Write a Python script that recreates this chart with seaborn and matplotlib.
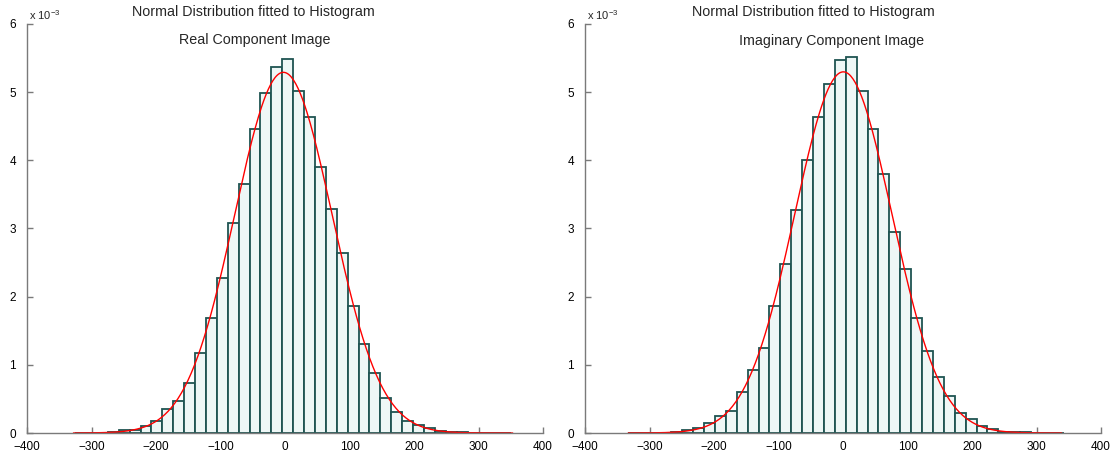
import numpy as np
import pandas as pd
import matplotlib
matplotlib.use("Agg")
import matplotlib.pyplot as plt
from matplotlib.ticker import FuncFormatter
import seaborn as sns

sns.set_style("white")
plt.rcParams["font.family"] = ["Liberation Sans", "DejaVu Sans"]
plt.rcParams["mathtext.fontset"] = "custom"
plt.rcParams["mathtext.rm"] = "Liberation Sans"
plt.rcParams["mathtext.it"] = "Liberation Sans"

# Histogram bin layout (pixel-value units)
bin_width = 16.9
real_first_edge = -4.2 - 19 * bin_width
imag_first_edge = 4.3 - 20 * bin_width

# Normalised histogram heights (x 1e-3), one per bin from left to right
real_heights = [0.002, 0.002, 0.003, 0.01, 0.04, 0.05, 0.10, 0.176, 0.347, 0.465,
                0.729, 1.169, 1.682, 2.278, 3.084, 3.651, 4.462, 4.995, 5.362, 5.484,
                5.015, 4.643, 3.895, 3.289, 2.634, 1.867, 1.30, 0.885, 0.508, 0.313,
                0.176, 0.12, 0.068, 0.025, 0.02, 0.01, 0.004, 0.003, 0.002, 0.001]
imag_heights = [0.002, 0.002, 0.003, 0.005, 0.02, 0.04, 0.07, 0.151, 0.245, 0.327,
                0.606, 0.924, 1.251, 1.857, 2.483, 3.265, 4.01, 4.64, 5.113, 5.474,
                5.51, 5.015, 4.457, 3.80, 2.947, 2.40, 1.682, 1.207, 0.821, 0.538,
                0.298, 0.21, 0.10, 0.054, 0.02, 0.01, 0.01, 0.003, 0.002, 0.001]

# Fitted normal parameters and plotted range of each curve
real_mu, real_sigma, real_range = -2.5, 75.4, (-328, 353)
imag_mu, imag_sigma, imag_range = 0.5, 75.3, (-333, 339)

suptitle = "Normal Distribution fitted to Histogram"
panel_titles = ["Real Component Image", "Imaginary Component Image"]
x_ticks = [-400, -300, -200, -100, 0, 100, 200, 300, 400]
y_ticks = [0, 1, 2, 3, 4, 5, 6]

fig = plt.figure(figsize=(11.12, 4.55), dpi=100)
W, H = 1112, 455
# axes extents and title anchor points in figure pixels (from top-left)
ax_specs = [
    (27, 543, real_first_edge, real_heights, real_mu, real_sigma, real_range,
     (253, 12), (255, 40)),
    (585, 1101, imag_first_edge, imag_heights, imag_mu, imag_sigma, imag_range,
     (813, 12), (832, 41)),
]

axis_grey = "#7a7a7a"
for spec, ptitle in zip(ax_specs, panel_titles):
    x0, x1, first_edge, heights, mu, sigma, xr, t1, t2 = spec
    top, bottom = 24, 433
    ax = fig.add_axes([x0 / W, (H - bottom) / H, (x1 - x0) / W, (bottom - top) / H])
    n = len(heights)
    edges = [float(first_edge + bin_width * i) for i in range(n + 1)]
    centers = [(edges[i] + edges[i + 1]) / 2 for i in range(n)]
    df = pd.DataFrame({"value": centers, "density": [h * 1e-3 for h in heights]})
    sns.histplot(data=df, x="value", weights="density", bins=edges, stat="count",
                 ax=ax, color="#eef7f6", edgecolor="#1f5452", linewidth=1.3,
                 alpha=1.0)
    xs = np.linspace(xr[0], xr[1], 400)
    pdf = np.exp(-0.5 * ((xs - mu) / sigma) ** 2) / (sigma * np.sqrt(2 * np.pi))
    sns.lineplot(x=xs, y=pdf, ax=ax, color="red", linewidth=1.0)

    ax.set_xlim(-400, 400)
    ax.set_ylim(0, 6e-3)
    ax.set_xticks(x_ticks)
    ax.set_yticks([v * 1e-3 for v in y_ticks])
    ax.yaxis.set_major_formatter(FuncFormatter(lambda v, p: f"{v * 1e3:g}"))
    ax.xaxis.set_major_formatter(FuncFormatter(lambda v, p: f"{v:g}".replace("-", "\u2212")))
    ax.set_xlabel("")
    ax.set_ylabel("")
    for s in ("top", "right"):
        ax.spines[s].set_visible(False)
    for s in ("left", "bottom"):
        ax.spines[s].set_color(axis_grey)
        ax.spines[s].set_linewidth(1.0)
    ax.tick_params(axis="both", direction="in", length=4, width=1.0, color=axis_grey,
                   labelsize=8.5, labelcolor="black", left=True, bottom=True)
    ax.tick_params(axis="x", pad=6)
    ax.tick_params(axis="y", pad=8)
    ax.grid(False)

    fig.text(t1[0] / W, 1 - t1[1] / H, suptitle, ha="center", va="center",
             fontsize=10.3)
    fig.text(t2[0] / W, 1 - t2[1] / H, ptitle, ha="center", va="center",
             fontsize=10.3)
    ax.text(0.004, 1 + 9 / 409, r"x 10$^{-3}$", transform=ax.transAxes, ha="left",
            va="center", fontsize=8)

fig.savefig("out.png", dpi=100)
